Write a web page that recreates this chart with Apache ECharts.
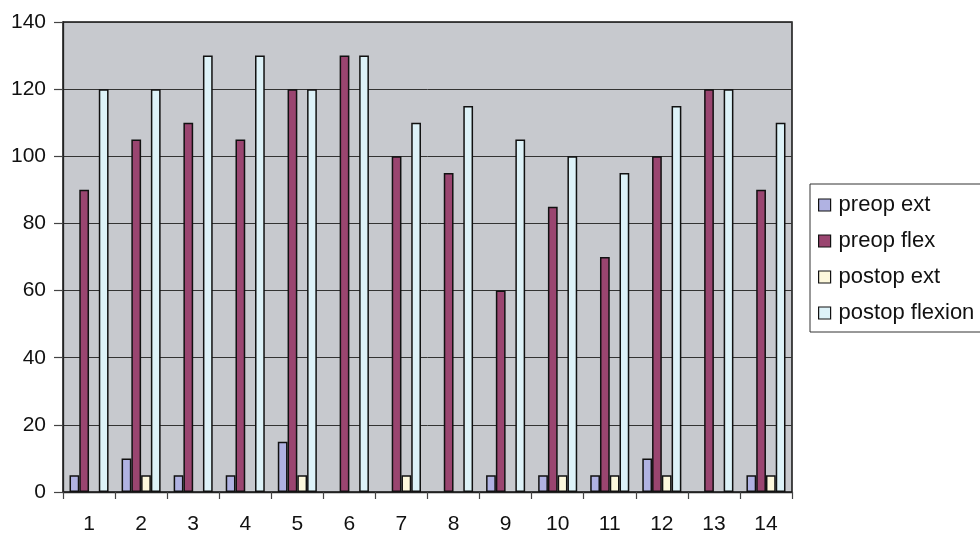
<!DOCTYPE html>
<html>
<head>
<meta charset="utf-8">
<script src="https://cdn.jsdelivr.net/npm/echarts@6/dist/echarts.min.js"></script>
<style>
html,body{margin:0;padding:0;background:#fff;}
#chart{width:980px;height:535px;}
</style>
</head>
<body>
<div id="chart"></div>
<script>
var categories = ['1','2','3','4','5','6','7','8','9','10','11','12','13','14'];
var preopExt    = [5, 10, 5, 5, 15, 0, 0, 0, 5, 5, 5, 10, 0, 5];
var preopFlex   = [90, 105, 110, 105, 120, 130, 100, 95, 60, 85, 70, 100, 120, 90];
var postopExt   = [0, 5, 0, 0, 5, 0, 5, 0, 0, 5, 5, 5, 0, 5];
var postopFlex  = [120, 120, 130, 130, 120, 130, 110, 115, 105, 100, 95, 115, 120, 110];
var seriesNames = ['preop ext', 'preop flex', 'postop ext', 'postop flexion'];
var seriesColors = ['#b0b2e2', '#9a4570', '#fdf8dc', '#ddf2f8'];

var FONT = '"Liberation Sans", Arial, sans-serif';
var chart = echarts.init(document.getElementById('chart'), null, {renderer: 'canvas'});

function mkSeries(name, data, color) {
  return {
    name: name,
    type: 'bar',
    data: data.map(function (v) {
      return v === 0 ? {value: 0, itemStyle: {borderWidth: 0, opacity: 0}} : v;
    }),
    barGap: '0%',
    barCategoryGap: '25%',
    itemStyle: {color: color, borderColor: '#111', borderWidth: 1.5},
    emphasis: {disabled: true}
  };
}

chart.setOption({
  animation: false,
  backgroundColor: '#ffffff',
  textStyle: {fontFamily: FONT},
  grid: {
    left: 63, top: 22, right: 188, bottom: 41,
    show: true, backgroundColor: '#c7c9ce',
    borderColor: '#111', borderWidth: 1.5,
    containLabel: false
  },
  legend: {
    orient: 'vertical',
    left: 810, top: 184,
    padding: [9, 60, 7, 8],
    borderColor: '#333', borderWidth: 1,
    icon: 'rect',
    itemWidth: 12, itemHeight: 12,
    itemGap: 12,
    itemStyle: {borderColor: '#111', borderWidth: 1.2},
    textStyle: {fontFamily: FONT, fontSize: 22, color: '#111', lineHeight: 24, padding: [0, 0, 0, 3]},
    data: seriesNames
  },
  xAxis: {
    type: 'category',
    data: categories,
    axisLine: {show: true, lineStyle: {color: '#222', width: 1.3}},
    axisTick: {show: true, length: 7, lineStyle: {color: '#444', width: 1.2}},
    axisLabel: {fontFamily: FONT, fontSize: 21, color: '#111', margin: 22}
  },
  yAxis: {
    type: 'value',
    min: 0, max: 140, interval: 20,
    axisLine: {show: true, lineStyle: {color: '#222', width: 1.3}},
    axisTick: {show: true, length: 9, lineStyle: {color: '#444', width: 1.2}},
    axisLabel: {fontFamily: FONT, fontSize: 21, color: '#111', margin: 17},
    splitLine: {show: true, lineStyle: {color: '#333', width: 1}}
  },
  series: [
    mkSeries(seriesNames[0], preopExt, seriesColors[0]),
    mkSeries(seriesNames[1], preopFlex, seriesColors[1]),
    mkSeries(seriesNames[2], postopExt, seriesColors[2]),
    mkSeries(seriesNames[3], postopFlex, seriesColors[3])
  ]
});
</script>
</body>
</html>
